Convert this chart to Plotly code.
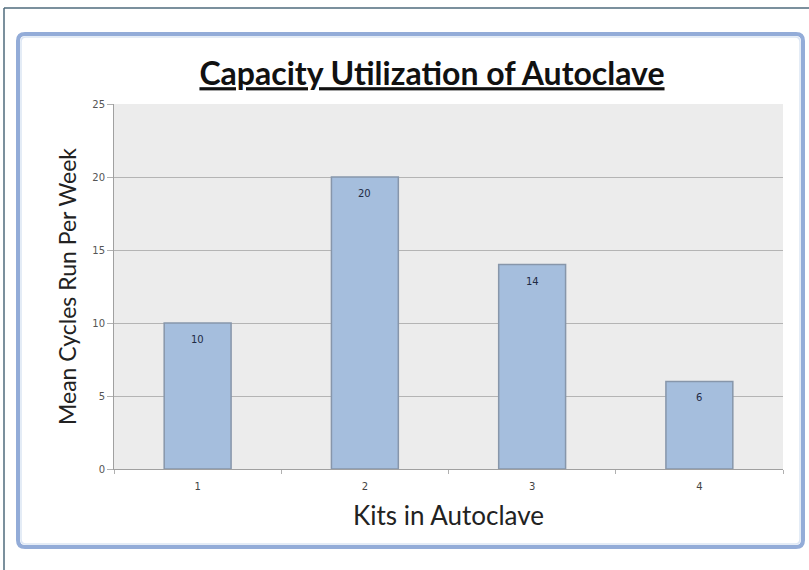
import plotly.graph_objects as go

kits = ["1", "2", "3", "4"]
mean_cycles = [10, 20, 14, 6]
y_ticks = [0, 5, 10, 15, 20, 25]

W, H = 809, 570
L, R, T, B = 114, 783, 104, 469

def px(x):
    return (x - L) / (R - L)

def py(y):
    return (B - y) / (B - T)

fig = go.Figure()
fig.add_trace(go.Bar(
    x=kits, y=mean_cycles, width=0.4,
    marker=dict(color="#a5bedd", line=dict(color="#8796aa", width=1.5)),
    hoverinfo="skip",
))

annotations = [
    dict(x=i, y=v, xref="x", yref="y", text=str(v), showarrow=False,
         yanchor="top", yshift=-9,
         font=dict(family="DejaVu Sans", size=10, color="#1f2b45"))
    for i, v in enumerate(mean_cycles)
]

def rounded_rect(x0, y0, x1, y1, r):
    return (f"M {px(x0 + r)},{py(y0)} L {px(x1 - r)},{py(y0)} "
            f"Q {px(x1)},{py(y0)} {px(x1)},{py(y0 + r)} "
            f"L {px(x1)},{py(y1 - r)} Q {px(x1)},{py(y1)} {px(x1 - r)},{py(y1)} "
            f"L {px(x0 + r)},{py(y1)} Q {px(x0)},{py(y1)} {px(x0)},{py(y1 - r)} "
            f"L {px(x0)},{py(y0 + r)} Q {px(x0)},{py(y0)} {px(x0 + r)},{py(y0)} Z")

shapes = [
    dict(type="line", xref="paper", yref="paper", x0=px(4), x1=px(812), y0=py(8), y1=py(8),
         line=dict(color="#4f6b7c", width=1.5)),
    dict(type="line", xref="paper", yref="paper", x0=px(4), x1=px(4), y0=py(8), y1=py(575),
         line=dict(color="#4f6b7c", width=1.5)),
    dict(type="path", xref="paper", yref="paper", path=rounded_rect(18, 34, 803, 547, 7),
         line=dict(color="#93acd8", width=4), fillcolor="rgba(0,0,0,0)"),
    dict(type="path", xref="paper", yref="paper", path=rounded_rect(21, 37, 800, 544, 5),
         line=dict(color="#dce6f4", width=1.5), fillcolor="rgba(0,0,0,0)"),
]

fig.update_layout(
    width=W, height=H,
    margin=dict(l=L, r=W - R, t=T, b=H - B),
    paper_bgcolor="white", plot_bgcolor="#ececec",
    showlegend=False,
    shapes=shapes,
    annotations=annotations,
    title=dict(text="<b><u>Capacity Utilization of Autoclave</u></b>",
               x=px(432), xref="paper", xanchor="center",
               y=1 - 74 / H, yanchor="middle",
               font=dict(family="Lato", size=32, color="#111111")),
    xaxis=dict(type="category", tickson="boundaries", ticks="outside", ticklen=4,
               tickcolor="#b0b0b0", showgrid=False, showline=True, linecolor="#a0a0a0",
               ticklabelstandoff=8,
               tickfont=dict(family="DejaVu Sans", size=10, color="#444444"),
               title=dict(text="Kits in Autoclave", standoff=15,
                          font=dict(family="Lato", size=26, color="#222222"))),
    yaxis=dict(range=[0, 25], tickvals=y_ticks, ticks="outside", ticklen=6,
               tickcolor="#b0b0b0", showgrid=True, gridcolor="#b4b4b4", gridwidth=1,
               showline=True, linecolor="#a0a0a0", zeroline=False,
               tickfont=dict(family="DejaVu Sans", size=10, color="#555555"),
               title=dict(text="Mean Cycles Run Per Week", standoff=9,
                          font=dict(family="Lato", size=23, color="#222222"))),
)

fig.write_html("out.html", config={"displayModeBar": False},
               post_script="document.body.style.margin='0';")
